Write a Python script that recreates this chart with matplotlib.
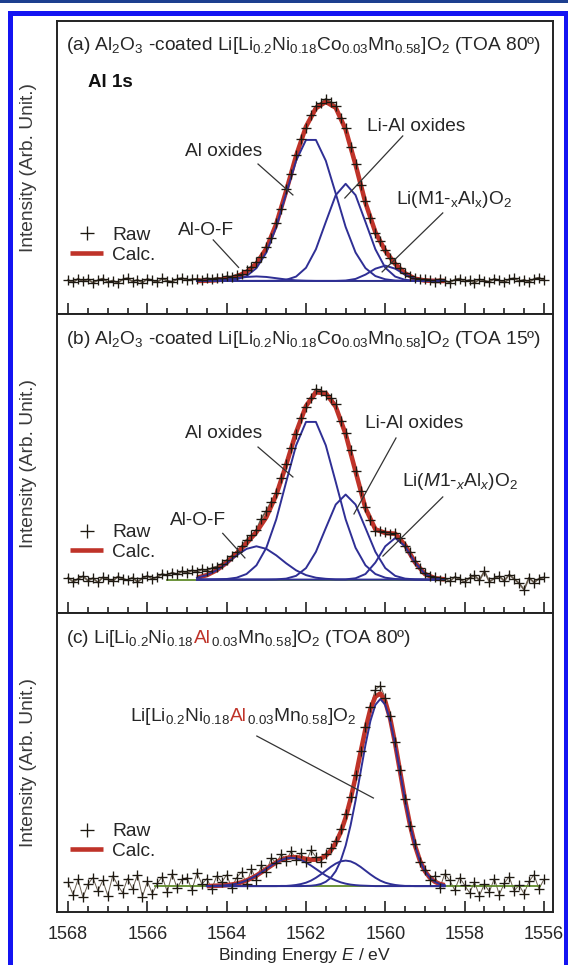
import numpy as np
import matplotlib.pyplot as plt
from matplotlib.patches import Rectangle
from matplotlib.ticker import MultipleLocator
from matplotlib.offsetbox import TextArea, HPacker, AnnotationBbox

plt.rcParams['font.family'] = ['Liberation Sans', 'DejaVu Sans']
plt.rcParams['mathtext.fontset'] = 'custom'
plt.rcParams['mathtext.rm'] = 'Liberation Sans'
plt.rcParams['mathtext.it'] = 'Liberation Sans:italic'
plt.rcParams['mathtext.bf'] = 'Liberation Sans:bold'

# ---- data (intensities in arb. units, baseline = 0) ----
# raw spectra, 0.125 eV steps from 1568 eV down to 1556 eV
raw_energy = np.linspace(1568.0, 1556.0, 97)

raw_a = [0.005, -0.008, 0.012, -0.003, 0.009, -0.010, 0.004, 0.013, -0.006, 0.002,
         -0.011, 0.008, 0.015, -0.004, 0.006, -0.009, 0.011, 0.003, -0.007, 0.014,
         0.001, -0.005, 0.010, 0.016, 0.004, 0.009,
         0.012, 0.006, 0.015, 0.010, 0.018, 0.014, 0.026, 0.022, 0.035, 0.040,
         0.058, 0.075, 0.104, 0.132, 0.186, 0.240, 0.322, 0.398, 0.510, 0.592,
         0.700, 0.787, 0.850, 0.925, 0.972, 0.990, 1.012, 0.995, 0.975, 0.905,
         0.848, 0.742, 0.652, 0.535, 0.445, 0.352, 0.268, 0.220, 0.171, 0.125,
         0.098, 0.070, 0.046, 0.030, 0.018, 0.009, 0.011,
         0.004, -0.006, 0.010, 0.002, -0.009, 0.007, 0.013, -0.003, 0.005, -0.010,
         0.008, 0.001, -0.005, 0.012, 0.003, -0.008, 0.009, 0.015, -0.002, 0.006,
         -0.007, 0.011, 0.018, 0.004]

raw_b = [0.010, -0.012, 0.004, 0.018, -0.006, 0.008, -0.015, 0.012, 0.002, -0.009,
         0.016, 0.005, -0.004, 0.011, -0.013, 0.007, 0.020, 0.003, 0.014,
         0.030, 0.022, 0.038, 0.028, 0.045, 0.035, 0.050, 0.042, 0.055, 0.048,
         0.062, 0.070, 0.085, 0.105, 0.128, 0.150, 0.180, 0.215, 0.240, 0.268,
         0.330, 0.372, 0.420, 0.470, 0.552, 0.628, 0.712, 0.790, 0.875, 0.936,
         0.985, 1.030, 1.022, 1.000, 0.985, 0.948, 0.858, 0.795, 0.700, 0.590,
         0.478, 0.395, 0.322, 0.265, 0.262, 0.258, 0.246, 0.252, 0.226, 0.180,
         0.148, 0.098, 0.062, 0.036, 0.020, 0.012, -0.002, 0.008,
         -0.010, 0.014, 0.004, -0.015, 0.009, 0.022, -0.004, 0.045, -0.012, 0.006,
         0.018, -0.008, 0.027, 0.003, -0.020, -0.055, 0.010, -0.016, 0.005, 0.012]

raw_c = [0.020, -0.045, 0.035, -0.060, 0.010, 0.045, -0.025, 0.030, -0.050, 0.055,
         0.005, -0.035, 0.040, -0.015, 0.060, -0.055, 0.025, -0.040, 0.015, 0.050,
         -0.030, 0.065, -0.010, 0.035, 0.045, -0.020, 0.070, 0.010,
         0.040, -0.015, 0.055, 0.020, 0.060, -0.010, 0.045, 0.075, 0.010, 0.090,
         0.030, 0.110, 0.075, 0.150, 0.120, 0.170, 0.135, 0.185, 0.140, 0.175,
         0.125, 0.190, 0.155, 0.128, 0.172, 0.200, 0.240, 0.300, 0.380, 0.470,
         0.590, 0.715, 0.842, 0.950, 1.040, 1.060, 0.995, 0.900, 0.760, 0.612,
         0.460, 0.318, 0.222, 0.130, 0.085, 0.030, 0.055, -0.010, 0.065,
         0.030, -0.020, 0.045, 0.005, -0.035, 0.020, -0.050, 0.010, -0.030, 0.040,
         -0.045, 0.015, 0.050, -0.025, 0.005, -0.040, 0.025, 0.060, -0.015, 0.035]

# fitted components, (a) and (b): 0.25 eV steps 1564.75 -> 1558.5 eV
fit_energy_ab = np.linspace(1564.75, 1558.5, 26)

alof_a = [0, 0.001, 0.003, 0.008, 0.015, 0.022, 0.025, 0.022, 0.015, 0.008, 0.003, 0.001, 0,
          0, 0, 0, 0, 0, 0, 0, 0, 0, 0, 0, 0, 0]
alox_a = [0, 0, 0.001, 0.002, 0.009, 0.027, 0.071, 0.158, 0.300, 0.486, 0.668, 0.784, 0.784,
          0.668, 0.486, 0.300, 0.158, 0.071, 0.027, 0.009, 0.002, 0.001, 0, 0, 0, 0]
lial_a = [0, 0, 0, 0, 0, 0, 0, 0, 0.001, 0.006, 0.024, 0.073, 0.176,
          0.328, 0.477, 0.540, 0.477, 0.328, 0.176, 0.073, 0.024, 0.006, 0.001, 0, 0, 0]
lim_a = [0, 0, 0, 0, 0, 0, 0, 0, 0, 0, 0, 0, 0,
         0, 0, 0.002, 0.011, 0.035, 0.068, 0.085, 0.068, 0.035, 0.011, 0.002, 0, 0]

alof_b = [0.010, 0.024, 0.050, 0.088, 0.131, 0.166, 0.180, 0.166, 0.131, 0.088, 0.050, 0.024, 0.010,
          0.004, 0.001, 0, 0, 0, 0, 0, 0, 0, 0, 0, 0, 0]
alox_b = [0, 0, 0.001, 0.003, 0.010, 0.030, 0.077, 0.172, 0.326, 0.528, 0.726, 0.853, 0.853,
          0.726, 0.528, 0.326, 0.172, 0.077, 0.030, 0.010, 0.003, 0.001, 0, 0, 0, 0]
lial_b = [0, 0, 0, 0, 0, 0, 0, 0, 0.001, 0.005, 0.020, 0.062, 0.150,
          0.279, 0.406, 0.460, 0.406, 0.279, 0.150, 0.062, 0.020, 0.005, 0.001, 0, 0, 0]
lim_b = [0, 0, 0, 0, 0, 0, 0, 0, 0, 0, 0, 0, 0,
         0, 0, 0.001, 0.007, 0.030, 0.092, 0.180, 0.225, 0.180, 0.092, 0.030, 0.007, 0.001]

# fitted components, (c): 0.125 eV steps 1564.5 -> 1558.5 eV
fit_energy_c = np.linspace(1564.5, 1558.5, 49)

broad_c = [0, 0.001, 0.002, 0.003, 0.005, 0.008, 0.013, 0.020, 0.030, 0.042,
           0.056, 0.073, 0.091, 0.109, 0.125, 0.138, 0.147, 0.150, 0.147, 0.138,
           0.125, 0.109, 0.091, 0.073, 0.056, 0.042, 0.030, 0.020, 0.013, 0.008,
           0.005, 0.003, 0.002, 0.001, 0, 0, 0, 0, 0, 0,
           0, 0, 0, 0, 0, 0, 0, 0, 0]
small_c = [0, 0, 0, 0, 0, 0, 0, 0, 0, 0,
           0, 0, 0, 0, 0, 0.001, 0.001, 0.003, 0.006, 0.011,
           0.018, 0.029, 0.044, 0.062, 0.082, 0.102, 0.119, 0.131, 0.135, 0.131,
           0.119, 0.102, 0.082, 0.062, 0.044, 0.029, 0.018, 0.011, 0.006, 0.003,
           0.001, 0.001, 0, 0, 0, 0, 0, 0, 0]
main_c = [0, 0, 0, 0, 0, 0, 0, 0, 0, 0,
          0, 0, 0, 0, 0, 0, 0, 0, 0, 0,
          0.001, 0.002, 0.005, 0.011, 0.023, 0.044, 0.079, 0.134, 0.214, 0.322,
          0.453, 0.601, 0.747, 0.874, 0.959, 0.990, 0.959, 0.874, 0.747, 0.601,
          0.453, 0.322, 0.214, 0.134, 0.079, 0.044, 0.023, 0.011, 0.005]

# ---- text ----
titles = [r"(a) Al$_2$O$_3$ -coated Li[Li$_{0.2}$Ni$_{0.18}$Co$_{0.03}$Mn$_{0.58}$]O$_2$ (TOA 80º)",
          r"(b) Al$_2$O$_3$ -coated Li[Li$_{0.2}$Ni$_{0.18}$Co$_{0.03}$Mn$_{0.58}$]O$_2$ (TOA 15º)",
          None]
title_c_parts = [r"(c) Li[Li$_{0.2}$Ni$_{0.18}$", "Al", r"$_{0.03}$Mn$_{0.58}$]O$_2$ (TOA 80º)"]
label_c_parts = [r"Li[Li$_{0.2}$Ni$_{0.18}$", "Al", r"$_{0.03}$Mn$_{0.58}$]O$_2$"]

# (label, text centre, leader start, leader end) in data units
notes_a = [("Al oxides", (1564.07, 0.717), (1563.21, 0.650), (1562.33, 0.478)),
           ("Li-Al oxides", (1559.23, 0.861), (1559.56, 0.806), (1561.02, 0.461)),
           (r"Li(M1-$_\mathrm{x}$Al$_\mathrm{x}$)O$_2$", (1558.27, 0.450), (1558.55, 0.378), (1560.08, 0.050)),
           ("Al-O-F", (1564.52, 0.283), (1564.34, 0.228), (1563.70, 0.075))]
notes_b = [("Al oxides", (1564.07, 0.793), (1563.21, 0.717), (1562.33, 0.555)),
           ("Li-Al oxides", (1559.28, 0.842), (1559.73, 0.766), (1560.79, 0.355)),
           (r"Li($\mathit{M}$1-$_{x}$Al$_{x}$)O$_2$", (1558.12, 0.528), (1558.55, 0.447), (1560.06, 0.127)),
           ("Al-O-F", (1564.72, 0.317), (1564.10, 0.250), (1563.54, 0.117))]

TXT = '#262626'
RED = '#bf3329'
BLUE = '#2f2f95'
GREEN = '#5f8a2a'
FS = 13.8

fig = plt.figure(figsize=(5.68, 9.65), dpi=100)
W, H = 568.0, 965.0

# blue page frame
fig.add_artist(Rectangle((0, 1 - 2.5 / H), 1, 2.5 / H, transform=fig.transFigure, color='#1d3f8f', lw=0))
fig.add_artist(Rectangle((7.5 / W, 0), 5 / W, (H - 11) / H, transform=fig.transFigure, color='#1414f2', lw=0))
fig.add_artist(Rectangle((7.5 / W, 1 - 16 / H), 1, 5 / H, transform=fig.transFigure, color='#1414f2', lw=0))
fig.add_artist(Rectangle((563.5 / W, 0), 4.5 / W, (H - 11) / H, transform=fig.transFigure, color='#1414f2', lw=0))

rows = [(20.7, 314.0), (314.0, 613.0), (613.0, 912.0)]
panels = [
    dict(raw=raw_a, fx=fit_energy_ab, comps=[alof_a, alox_a, lial_a, lim_a], ylim=(-0.184, 1.447),
         base=(1564.75, 1558.5), notes=notes_a, rawlw=1.3),
    dict(raw=raw_b, fx=fit_energy_ab, comps=[alof_b, alox_b, lial_b, lim_b], ylim=(-0.181, 1.437),
         base=(1565.5, 1558.5), notes=notes_b, rawlw=1.3),
    dict(raw=raw_c, fx=fit_energy_c, comps=[broad_c, small_c, main_c], ylim=(-0.137, 1.445),
         base=(1565.8, 1556.1), notes=[], rawlw=0.7),
]

def colored_line(parts, colors, size):
    boxes = [TextArea(p, textprops=dict(color=c, fontsize=size)) for p, c in zip(parts, colors)]
    return HPacker(children=boxes, align='baseline', pad=0, sep=0)

axes = []
for i, (p, (top, bot)) in enumerate(zip(panels, rows)):
    ax = fig.add_axes([57 / W, 1 - bot / H, 496 / W, (bot - top) / H])
    axes.append(ax)

    # raw trace underneath (gives the dark band), then the fit
    ax.plot(raw_energy, p['raw'], color='#4f4130', lw=p['rawlw'], alpha=0.85, zorder=1)
    ax.plot(p['base'], [0, 0], color=GREEN, lw=1.3, zorder=1.5)
    calc = np.sum(np.array(p['comps']), axis=0)
    calc_line, = ax.plot(p['fx'], calc, color=RED, lw=3.3, zorder=2, solid_capstyle='butt')
    for comp in p['comps']:
        ax.plot(p['fx'], comp, color=BLUE, lw=1.4, zorder=3, solid_joinstyle='round')
    raw_pts, = ax.plot(raw_energy, p['raw'], ls='none', marker='+', ms=7, mew=0.95,
                       color='#1e1912', zorder=4)

    ax.set_xlim(1568.28, 1555.77)
    ax.set_ylim(*p['ylim'])
    ax.set_yticks([])
    ax.xaxis.set_major_locator(MultipleLocator(2))
    ax.xaxis.set_minor_locator(MultipleLocator(0.5))
    ax.tick_params(axis='x', which='both', direction='in', top=False, bottom=True,
                   width=1.2, colors='#222222', labelcolor=TXT, labelsize=13, pad=10)
    ax.tick_params(axis='x', which='major', length=8)
    ax.tick_params(axis='x', which='minor', length=4.5)
    if i < 2:
        ax.tick_params(axis='x', labelbottom=False)
    for s in ax.spines.values():
        s.set_linewidth(1.4)
        s.set_color('#222222')

    ax.set_ylabel('Intensity (Arb. Unit.)', fontsize=FS, color='#3a3a3a', va='center')
    ax.yaxis.set_label_coords(-0.058, 0.5)

    # title line
    if titles[i] is not None:
        ax.text(0.018, 0.916, titles[i], transform=ax.transAxes, fontsize=FS, color=TXT,
                ha='left', va='center')
    else:
        box = colored_line(title_c_parts, [TXT, RED, TXT], FS)
        ax.add_artist(AnnotationBbox(box, (0.018, 0.916), xycoords='axes fraction',
                                     box_alignment=(0, 0.5), frameon=False, pad=0))

    # component labels with leader lines
    for label, txy, l0, l1 in p['notes']:
        ax.text(txy[0], txy[1], label, fontsize=FS, color=TXT, ha='center', va='center', zorder=5)
        ax.plot([l0[0], l1[0]], [l0[1], l1[1]], color='#333333', lw=0.9, zorder=5)

    ax.legend(handles=[raw_pts, calc_line], labels=['Raw', 'Calc.'], loc='upper left',
              bbox_to_anchor=(0.026, 0.298), frameon=False, fontsize=FS, handlelength=1.75,
              handletextpad=0.45, labelspacing=0.12, borderpad=0, borderaxespad=0,
              markerscale=1.5, labelcolor=TXT)

axes[0].text(0.0625, 0.788, 'Al 1s', transform=axes[0].transAxes, fontsize=13.5,
             fontweight='bold', color='#111111', ha='left', va='center')

box = colored_line(label_c_parts, [TXT, RED, TXT], FS)
axes[2].add_artist(AnnotationBbox(box, (1563.59, 0.895), xycoords='data',
                                  box_alignment=(0.5, 0.5), frameon=False, pad=0))
axes[2].plot([1563.24, 1560.30], [0.794, 0.466], color='#333333', lw=0.9, zorder=5)

axes[2].set_xlabel(r'Binding Energy $\mathit{E}$ / eV', fontsize=12.6, color=TXT, va='baseline')
axes[2].xaxis.set_label_coords(0.5, -0.159)

fig.savefig('out.png', dpi=100)
